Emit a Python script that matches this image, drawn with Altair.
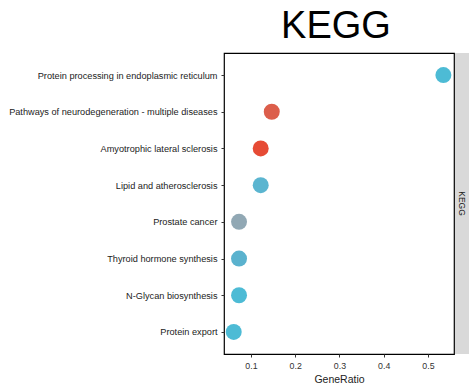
import altair as alt
import pandas as pd

# KEGG enrichment terms, top to bottom
pathways = [
    "Protein processing in endoplasmic reticulum",
    "Pathways of neurodegeneration - multiple diseases",
    "Amyotrophic lateral sclerosis",
    "Lipid and atherosclerosis",
    "Prostate cancer",
    "Thyroid hormone synthesis",
    "N-Glycan biosynthesis",
    "Protein export",
]
gene_ratio = [0.535, 0.147, 0.122, 0.122, 0.073, 0.073, 0.073, 0.061]
point_colors = ["#4DBBD5", "#DC5E4B", "#E64B35", "#5BB5D0",
                "#91A8B4", "#5AB2CE", "#4DBBD5", "#4DBBD5"]
x_ticks = [0.1, 0.2, 0.3, 0.4, 0.5]

df = pd.DataFrame({"Description": pathways, "GeneRatio": gene_ratio})
label_df = pd.DataFrame({"label": ["KEGG"]})

FONT = "Liberation Sans"
W, H = 230, 301

points = alt.Chart(df).mark_circle(size=255, opacity=1).encode(
    x=alt.X(
        "GeneRatio:Q",
        scale=alt.Scale(domain=[0.039, 0.559], nice=False, zero=False),
        axis=alt.Axis(
            values=x_ticks, format=".1f", grid=False, domain=False,
            tickSize=3, tickColor="#333333", labelColor="#333333",
            labelFontSize=8.8, labelPadding=4,
            title="GeneRatio", titleFontSize=10.5, titleFontWeight="normal",
            titleColor="#222222", titlePadding=5,
        ),
    ),
    y=alt.Y(
        "Description:N",
        sort=pathways,
        scale=alt.Scale(type="point", padding=0.6),
        axis=alt.Axis(
            title=None, grid=False, domain=False, tickSize=3,
            tickColor="#333333", labelColor="#222222",
            labelFontSize=9.2, labelPadding=4, labelLimit=400,
        ),
    ),
    color=alt.Color(
        "Description:N",
        scale=alt.Scale(domain=pathways, range=point_colors),
        legend=None,
    ),
)

# facet strip on the right side of the panel
strip = alt.Chart(label_df).mark_rect(fill="#D9D9D9", clip=False).encode(
    x=alt.value(W + 1), x2=alt.value(W + 20),
    y=alt.value(0), y2=alt.value(H),
)
strip_text = alt.Chart(label_df).mark_text(
    angle=90, fontSize=8.5, font=FONT, color="#1A1A1A",
    align="center", baseline="middle",
).encode(text="label:N", x=alt.value(W + 8), y=alt.value(H / 2))

title = alt.Chart(label_df).mark_text(
    fontSize=38, font=FONT, color="#000000",
    align="center", baseline="alphabetic",
).encode(text="label:N", x=alt.value(112), y=alt.value(-15))

chart = alt.layer(strip, strip_text, points, title).properties(
    width=W, height=H,
    autosize=alt.AutoSizeParams(type="none"),
    padding={"left": 224, "top": 53, "right": 15, "bottom": 37},
).configure(font=FONT).configure_view(
    stroke="#000000", strokeWidth=1.2
)

chart.save("out.html", embed_options={"renderer": "svg", "actions": False})
